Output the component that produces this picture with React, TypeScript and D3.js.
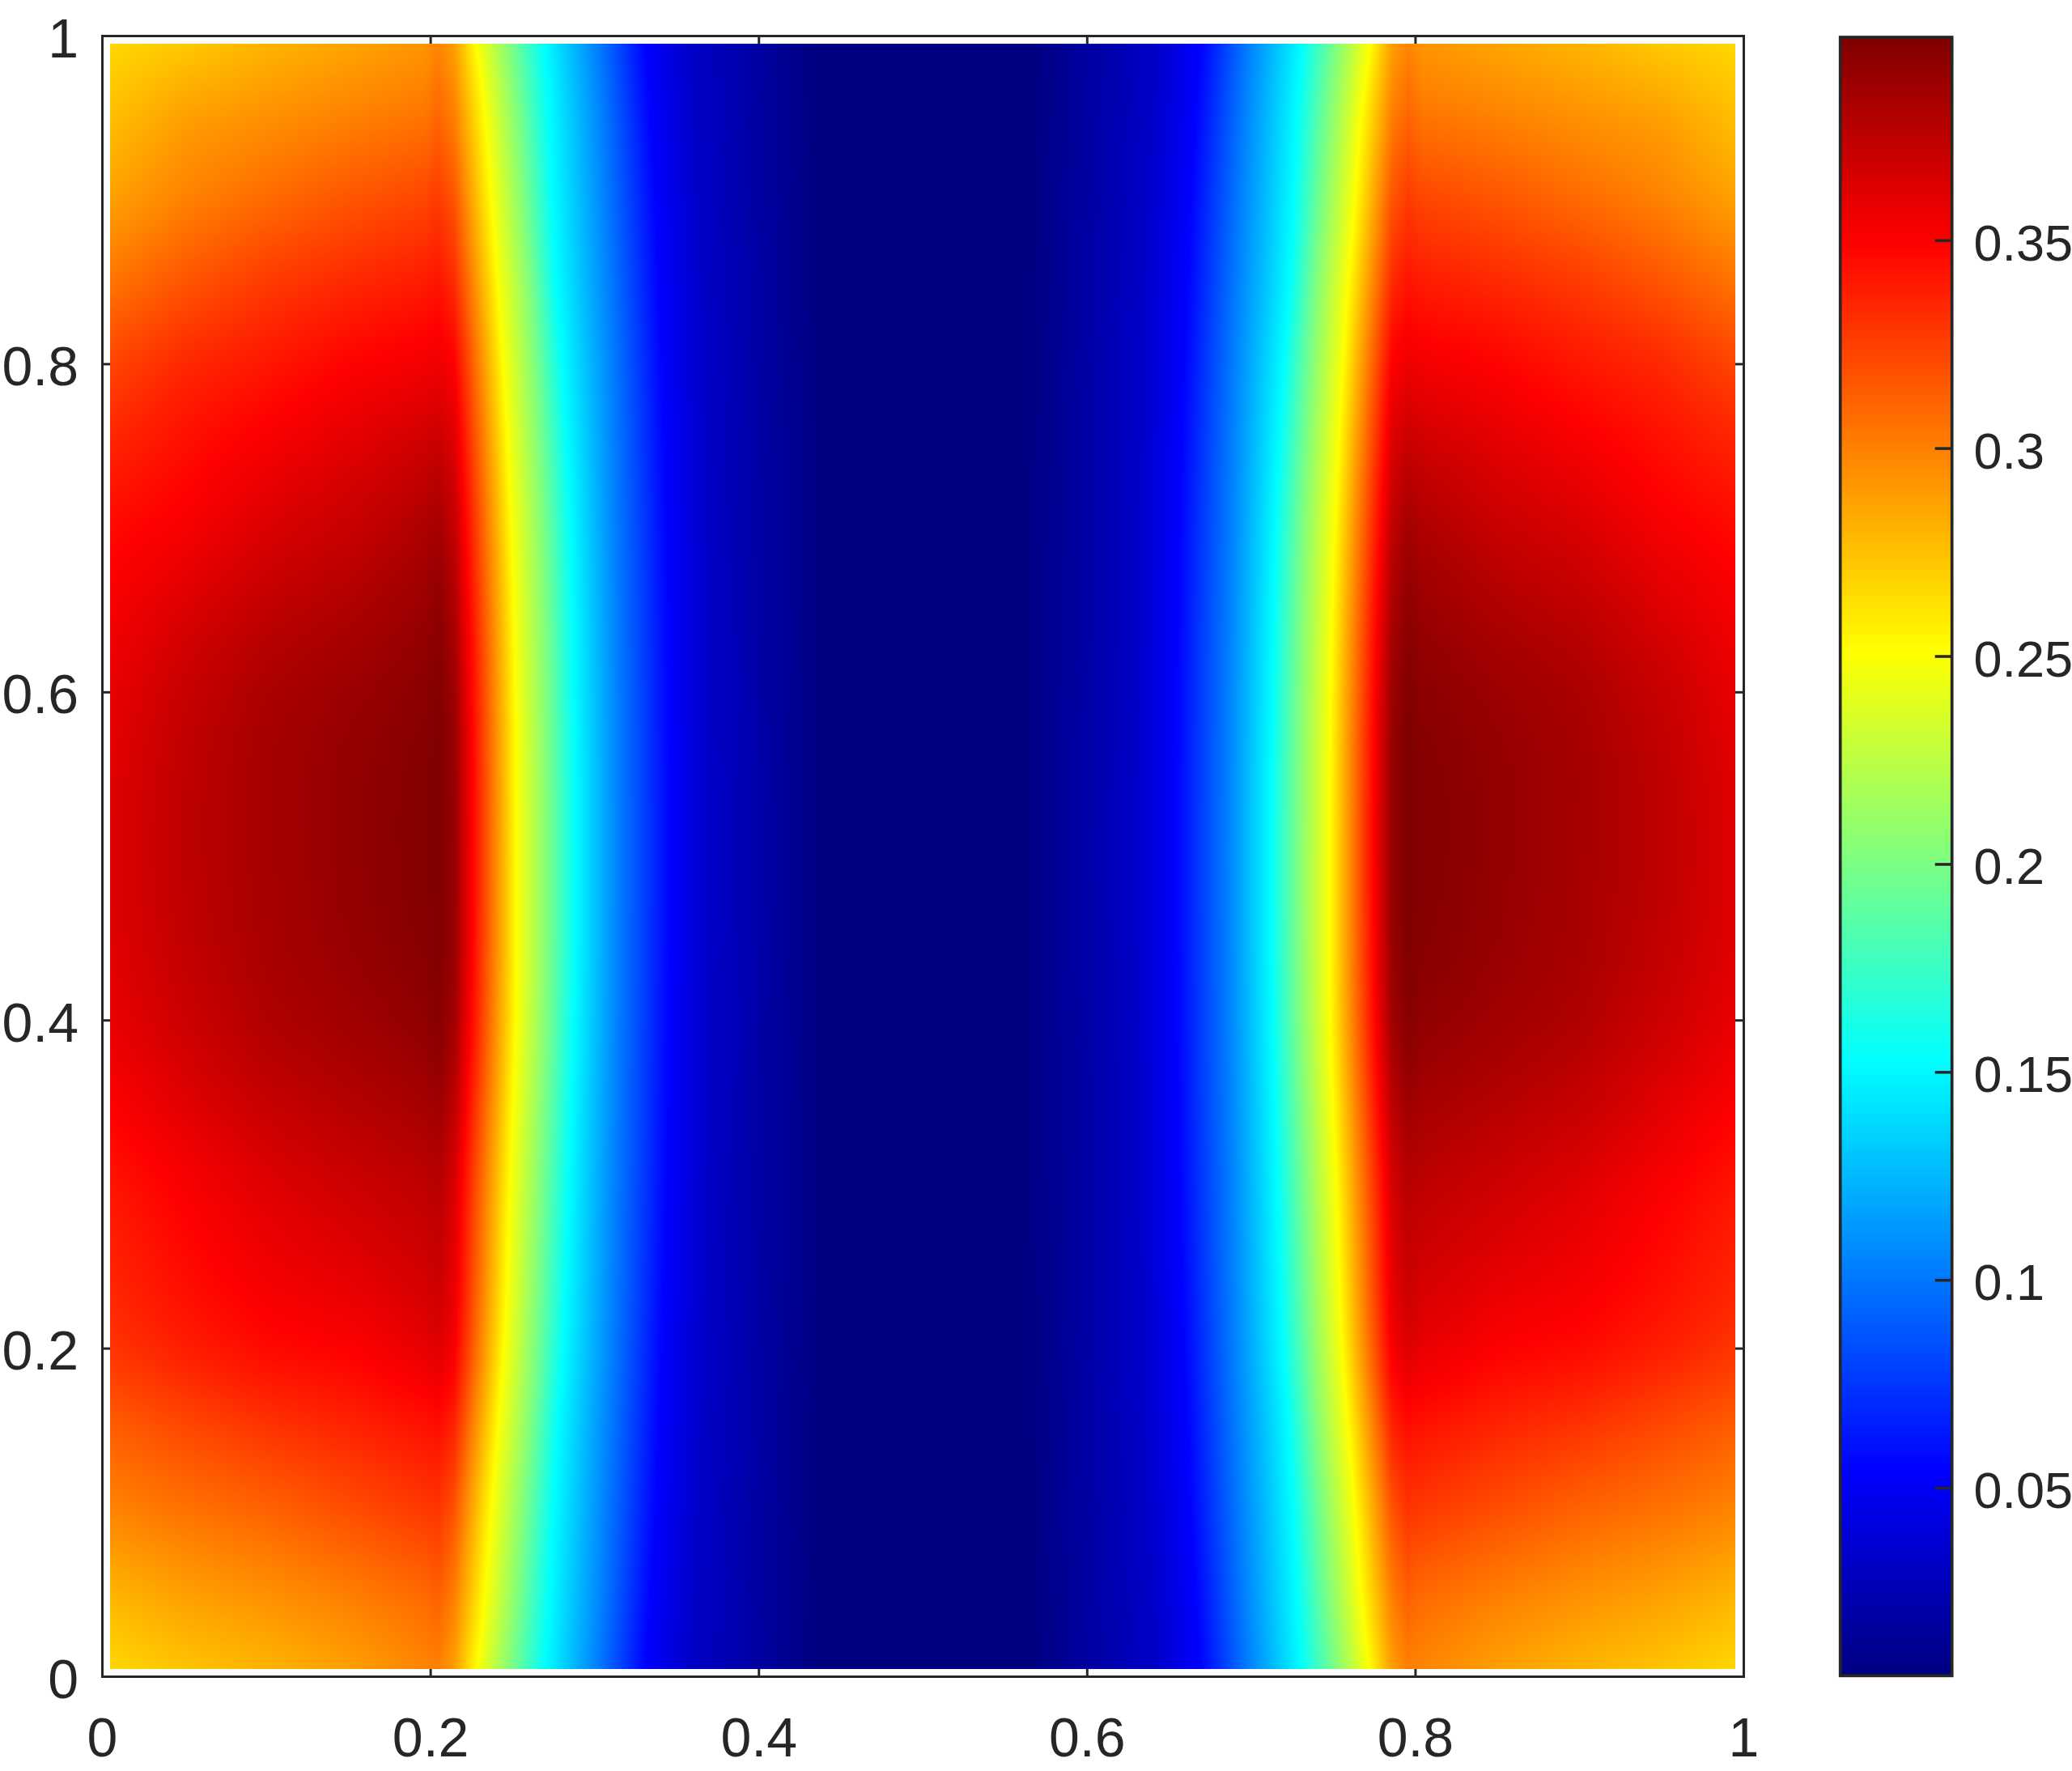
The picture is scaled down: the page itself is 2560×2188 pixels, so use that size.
import React, { useMemo } from "react";
import * as d3 from "d3";

// ---- data -----------------------------------------------------------------
const xTicks = [0, 0.2, 0.4, 0.6, 0.8, 1];
const yTicks = [0, 0.2, 0.4, 0.6, 0.8, 1];
const xTickLabels = ["0", "0.2", "0.4", "0.6", "0.8", "1"];
const yTickLabels = ["0", "0.2", "0.4", "0.6", "0.8", "1"];
const colorTicks = [0.05, 0.1, 0.15, 0.2, 0.25, 0.3, 0.35];
const colorTickLabels = ["0.05", "0.1", "0.15", "0.2", "0.25", "0.3", "0.35"];
const colorDomain = [0.0049, 0.3989];
const jetStops = [0, 0.125, 0.375, 0.625, 0.875, 1];
const jetColors = ["#000080", "#0000ff", "#00ffff", "#ffff00", "#ff0000", "#800000"];

// sampled rows (y of the field, top to bottom)
const rowY = [0.9955, 0.95, 0.9, 0.85, 0.8, 0.7, 0.6, 0.5, 0.4, 0.3, 0.2, 0.15, 0.1, 0.05, 0.0045];

// outer plateau: x columns and value per row (the ridge sits at x = 0.2047)
const plateauX = [0.0047, 0.05, 0.1, 0.15, 0.196, 0.2047, 0.2145];
const plateauValues = [
  [0.2665, 0.272, 0.28, 0.286, 0.292, 0.298, 0.288],
  [0.276, 0.288, 0.294, 0.3, 0.305, 0.311, 0.301],
  [0.288, 0.3, 0.309, 0.317, 0.323, 0.327, 0.317],
  [0.305, 0.317, 0.327, 0.334, 0.339, 0.342, 0.333],
  [0.323, 0.334, 0.341, 0.349, 0.354, 0.356, 0.35],
  [0.346, 0.353, 0.364, 0.371, 0.381, 0.385, 0.373],
  [0.358, 0.371, 0.382, 0.388, 0.394, 0.398, 0.387],
  [0.362, 0.375, 0.384, 0.391, 0.397, 0.399, 0.39],
  [0.358, 0.369, 0.38, 0.386, 0.392, 0.396, 0.385],
  [0.342, 0.352, 0.362, 0.369, 0.375, 0.378, 0.365],
  [0.329, 0.338, 0.346, 0.35, 0.358, 0.362, 0.352],
  [0.313, 0.321, 0.329, 0.335, 0.342, 0.344, 0.335],
  [0.298, 0.305, 0.311, 0.319, 0.327, 0.329, 0.317],
  [0.28, 0.288, 0.294, 0.301, 0.309, 0.313, 0.301],
  [0.2665, 0.274, 0.28, 0.288, 0.298, 0.3, 0.288],
];

// inner front: values are fixed levels, the x where each level is met varies per row
const frontLevels = [0.251, 0.202, 0.153, 0.104, 0.054, 0.033, 0.0173, 0.005];
const frontX = [
  [0.2277, 0.2483, 0.269, 0.301, 0.331, 0.358, 0.401, 0.434],
  [0.2331, 0.2531, 0.272, 0.304, 0.334, 0.36, 0.402, 0.435],
  [0.2369, 0.2567, 0.274, 0.306, 0.337, 0.363, 0.403, 0.436],
  [0.2409, 0.2605, 0.2763, 0.308, 0.339, 0.365, 0.404, 0.437],
  [0.2442, 0.2635, 0.28, 0.31, 0.341, 0.366, 0.405, 0.438],
  [0.2491, 0.2685, 0.285, 0.312, 0.344, 0.368, 0.406, 0.44],
  [0.2516, 0.2705, 0.287, 0.3135, 0.3455, 0.369, 0.407, 0.44],
  [0.2522, 0.2712, 0.288, 0.314, 0.346, 0.37, 0.408, 0.44],
  [0.2519, 0.2705, 0.287, 0.3135, 0.3455, 0.369, 0.407, 0.44],
  [0.2483, 0.267, 0.284, 0.312, 0.344, 0.368, 0.406, 0.44],
  [0.2447, 0.2635, 0.2805, 0.31, 0.341, 0.366, 0.405, 0.438],
  [0.2409, 0.2605, 0.277, 0.308, 0.339, 0.365, 0.404, 0.437],
  [0.2368, 0.2565, 0.2745, 0.306, 0.337, 0.363, 0.403, 0.436],
  [0.2331, 0.2531, 0.272, 0.304, 0.334, 0.36, 0.402, 0.435],
  [0.2282, 0.2485, 0.2695, 0.301, 0.331, 0.358, 0.401, 0.434],
];
const centreX = 0.5;
const centreValue = 0.005;

// ---- layout ----------------------------------------------------------------
const W = 2560;
const H = 2188;
const INK = "#262626";
const FONT = '"Liberation Sans", Arial, sans-serif';
const xScale = d3.scaleLinear().domain([0, 1]).range([126.5, 2154.5]);
const yScale = d3.scaleLinear().domain([0, 1]).range([2071.5, 44.5]);
const barBox = { x0: 2273.7, x1: 2411.7, y0: 46, y1: 2070.3 };
const barScale = d3.scaleLinear().domain(colorDomain).range([barBox.y1, barBox.y0]);
const [cLo, cHi] = colorDomain;
const jet = d3
  .scaleLinear<string>()
  .domain(jetStops.map((t) => cLo + t * (cHi - cLo)))
  .range(jetColors)
  .interpolate(d3.interpolateRgb)
  .clamp(true);

const fieldBounds = { xLo: 0.0047, xHi: 0.9947, yLo: 0.0045, yHi: 0.9955 };

// Hermite interpolation down a column of row samples (rowY is descending)
function columnAt(col: number[], y: number) {
  const n = rowY.length;
  let i = 0;
  while (i < n - 2 && y < rowY[i + 1]) i++;
  const h = rowY[i] - rowY[i + 1];
  const s = Math.min(1, Math.max(0, (rowY[i] - y) / h));
  const slope = (a: number, b: number) => (col[b] - col[a]) / (rowY[a] - rowY[b]);
  const tangent = (k: number) =>
    k === 0 ? slope(0, 1) : k === n - 1 ? slope(n - 2, n - 1) : 0.5 * (slope(k - 1, k) + slope(k, k + 1));
  const m0 = tangent(i) * h;
  const m1 = tangent(i + 1) * h;
  const s2 = s * s;
  const s3 = s2 * s;
  return (2 * s3 - 3 * s2 + 1) * col[i] + (s3 - 2 * s2 + s) * m0 + (-2 * s3 + 3 * s2) * col[i + 1] + (s3 - s2) * m1;
}

function renderField(): string {
  const left = Math.round(xScale(fieldBounds.xLo));
  const right = Math.round(xScale(fieldBounds.xHi));
  const top = Math.round(yScale(fieldBounds.yHi));
  const bottom = Math.round(yScale(fieldBounds.yLo));
  const w = right - left;
  const h = bottom - top;
  const canvas = document.createElement("canvas");
  canvas.width = w;
  canvas.height = h;
  const ctx = canvas.getContext("2d")!;
  const img = ctx.createImageData(w, h);

  const lutSize = 2048;
  const lut = new Uint8Array(lutSize * 3);
  for (let i = 0; i < lutSize; i++) {
    const c = d3.rgb(jet(cLo + ((cHi - cLo) * i) / (lutSize - 1)));
    lut[i * 3] = c.r;
    lut[i * 3 + 1] = c.g;
    lut[i * 3 + 2] = c.b;
  }
  const plateauCols = plateauX.map((_, k) => plateauValues.map((r) => r[k]));
  const frontCols = frontLevels.map((_, k) => frontX.map((r) => r[k]));

  const kx = new Float64Array(plateauX.length + frontLevels.length + 1);
  const kv = new Float64Array(kx.length);
  for (let py = 0; py < h; py++) {
    const Y = yScale.invert(top + py + 0.5);
    let n = 0;
    plateauX.forEach((x, k) => {
      kx[n] = x;
      kv[n++] = columnAt(plateauCols[k], Y);
    });
    frontLevels.forEach((lvl, k) => {
      kx[n] = columnAt(frontCols[k], Y);
      kv[n++] = lvl;
    });
    kx[n] = centreX;
    kv[n++] = centreValue;
    for (let px = 0; px < w; px++) {
      let X = xScale.invert(left + px + 0.5);
      if (X > centreX) X = 1 - X; // right half carries the same readings as the left
      let j = 0;
      while (j < n - 2 && X > kx[j + 1]) j++;
      const f = Math.min(1, Math.max(0, (X - kx[j]) / (kx[j + 1] - kx[j])));
      const v = kv[j] + f * (kv[j + 1] - kv[j]);
      const idx = Math.round(((v - cLo) / (cHi - cLo)) * (lutSize - 1));
      const q = Math.min(lutSize - 1, Math.max(0, idx)) * 3;
      const o = (py * w + px) * 4;
      img.data[o] = lut[q];
      img.data[o + 1] = lut[q + 1];
      img.data[o + 2] = lut[q + 2];
      img.data[o + 3] = 255;
    }
  }
  ctx.putImageData(img, 0, 0);
  return canvas.toDataURL("image/png");
}

export default function App() {
  const href = useMemo(renderField, []);
  const [x0, x1] = xScale.range();
  const [y0, y1] = yScale.range();
  const tickLen = 20;
  const barLevels = d3.range(0, 1024).map((i) => cLo + ((cHi - cLo) * (i + 0.5)) / 1024);
  const barStep = (barBox.y1 - barBox.y0) / 1024;
  const imgX = Math.round(xScale(fieldBounds.xLo));
  const imgXEnd = Math.round(xScale(fieldBounds.xHi));
  const imgY = Math.round(yScale(fieldBounds.yHi));
  const imgYEnd = Math.round(yScale(fieldBounds.yLo));

  return (
    <svg
      width={W}
      height={H}
      viewBox={`0 0 ${W} ${H}`}
      style={{ position: "absolute", left: 0, top: 0, display: "block", background: "#fff" }}
      fontFamily={FONT}
    >
      {/* ticks sit beneath the field */}
      <g stroke={INK} strokeWidth={3}>
        {xTicks.map((t) => (
          <g key={t}>
            <line x1={xScale(t)} x2={xScale(t)} y1={y1} y2={y1 + tickLen} />
            <line x1={xScale(t)} x2={xScale(t)} y1={y0} y2={y0 - tickLen} />
          </g>
        ))}
        {yTicks.map((t) => (
          <g key={t}>
            <line x1={x0} x2={x0 + tickLen} y1={yScale(t)} y2={yScale(t)} />
            <line x1={x1} x2={x1 - tickLen} y1={yScale(t)} y2={yScale(t)} />
          </g>
        ))}
      </g>
      <image href={href} x={imgX} y={imgY} width={imgXEnd - imgX} height={imgYEnd - imgY} preserveAspectRatio="none" />
      <rect x={x0} y={y1} width={x1 - x0} height={y0 - y1} fill="none" stroke={INK} strokeWidth={3} />

      <g fill={INK} fontSize={68}>
        {xTicks.map((t, i) => (
          <text key={t} x={xScale(t)} y={2170} textAnchor="middle">
            {xTickLabels[i]}
          </text>
        ))}
        {yTicks.map((t, i) => (
          <text key={t} x={97} y={yScale(t) + 26} textAnchor="end">
            {yTickLabels[i]}
          </text>
        ))}
      </g>

      {/* colour bar */}
      <g shapeRendering="crispEdges">
        {barLevels.map((v) => (
          <rect
            key={v}
            x={barBox.x0}
            width={barBox.x1 - barBox.x0}
            y={barScale(v) - barStep / 2 - 0.5}
            height={barStep + 1}
            fill={jet(v)}
          />
        ))}
      </g>
      <g stroke={INK} strokeWidth={3.5}>
        {colorTicks.map((t) => (
          <line key={t} x1={barBox.x1 - 21} x2={barBox.x1} y1={barScale(t)} y2={barScale(t)} />
        ))}
      </g>
      <rect
        x={barBox.x0}
        y={barBox.y0}
        width={barBox.x1 - barBox.x0}
        height={barBox.y1 - barBox.y0}
        fill="none"
        stroke={INK}
        strokeWidth={3.7}
      />
      <g fill={INK} fontSize={63}>
        {colorTicks.map((t, i) => (
          <text key={t} x={2438.5} y={barScale(t) + 24.5}>
            {colorTickLabels[i]}
          </text>
        ))}
      </g>
    </svg>
  );
}
